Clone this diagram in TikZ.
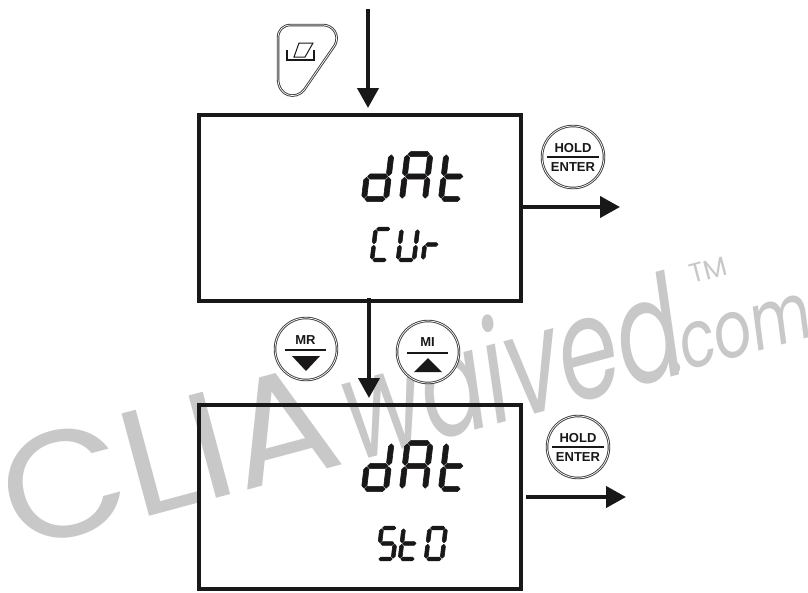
\documentclass[tikz,border=0pt]{standalone}
\usepackage{graphicx}
\usepackage{fontspec}
\setmainfont{Liberation Sans}
\newfontfamily\wmfont{Poppins}
\usetikzlibrary{arrows.meta,calc}
\definecolor{mark}{HTML}{C8C8C8}
\definecolor{ink}{HTML}{1A1718}
\tikzset{
  x=1pt,y=-1pt,
  lcdbox/.style={draw=ink,line width=4pt,minimum width=322pt,minimum height=#1,inner sep=0pt,outer sep=0pt},
  flow/.style={draw=ink,line width=4pt,-{Triangle[length=20pt,width=21pt]}},
  keyring/.style={draw=ink!85,line width=.9pt,double=white,double distance=.7pt},
  roundkey/.style={keyring,circle,minimum size=62pt,inner sep=0pt,outer sep=0pt,fill=white},
  keytext/.style={font=\fontsize{13}{13}\selectfont\bfseries,text=ink,inner sep=0pt},
  keybar/.style={draw=ink,line width=1.8pt},
  wm/.style={text=mark,inner sep=0pt,rotate=15,anchor=base west},
  seg/.style={fill=ink,draw=ink,line width=.6pt,line join=round},
}
% seven-segment digit: \sev{x}{y}{width}{height}{thickness}{segments}
\newcommand\segH[3]{\path[seg] (#1+.8,#3) -- (#1+.8+\tk/2,#3-\tk/2) -- (#2-.8-\tk/2,#3-\tk/2) -- (#2-.8,#3) -- (#2-.8-\tk/2,#3+\tk/2) -- (#1+.8+\tk/2,#3+\tk/2) -- cycle;}
\newcommand\segV[3]{\path[seg] (#1,#2+.8) -- (#1+\tk/2,#2+.8+\tk/2) -- (#1+\tk/2,#3-.8-\tk/2) -- (#1,#3-.8) -- (#1-\tk/2,#3-.8-\tk/2) -- (#1-\tk/2,#2+.8+\tk/2) -- cycle;}
\newcommand\sega{\segH{0}{\wdg}{-\hdg}}
\newcommand\segb{\segV{\wdg}{-\hdg}{-\hdg/2}}
\newcommand\segc{\segV{\wdg}{-\hdg/2}{0}}
\newcommand\segd{\segH{0}{\wdg}{0}}
\newcommand\sege{\segV{0}{-\hdg/2}{0}}
\newcommand\segf{\segV{0}{-\hdg}{-\hdg/2}}
\newcommand\segg{\segH{0}{\wdg}{-\hdg/2}}
\newcommand\sev[6]{%
  \begin{scope}[shift={(#1,#2)},xslant=.12]
    \def\wdg{#3}\def\hdg{#4}\def\tk{#5}
    \foreach \s in {#6}{\csname seg\s\endcsname}
  \end{scope}}
\newcommand\holdkey[3]{%
  \node[roundkey] (#1) at (#2,#3) {};
  \node[keytext] (#1h) at ($(#1)+(0,-8.5)$) {HOLD};
  \node[keytext] (#1e) at ($(#1)+(0,10)$) {ENTER};
  \draw[keybar] ($(#1)+(-26,0)$) -- ($(#1)+(26,0)$);}
\begin{document}
\begin{tikzpicture}
\useasboundingbox (0,0) rectangle (808,592);
\fill[white] (0,0) rectangle (808,592);
% watermark
\node[wm,font=\wmfont\fontsize{152}{152}\selectfont] (wm1) at (17,552) {\scalebox{1.06}[1]{CLIA}};
\node[wm,font=\wmfont\fontsize{142}{142}\selectfont\itshape] (wm2) at (356,462) {\scalebox{.68}[1]{waived}};
\node[wm,font=\wmfont\fontsize{80}{80}\selectfont\itshape] (wm3) at (674,374) {\scalebox{.74}[1]{.com}};
\node[wm,font=\wmfont\fontsize{27}{27}\selectfont] (wm4) at (692,284) {TM};
% displays
\node[lcdbox=186pt] (d1) at (360,208) {};
\node[lcdbox=184pt] (d2) at (360,497) {};
% digits
\sev{364}{199}{22}{45}{5.2}{b,c,d,e,g}
\sev{402}{199}{23}{45}{5.2}{a,b,c,e,f,g}
\sev{441}{199}{20}{45}{5.2}{d,e,f,g}
\sev{372}{260}{15}{31}{3.8}{a,d,e,f}
\sev{398}{260}{16}{31}{3.8}{b,c,d,e,f}
\sev{423}{260}{14}{31}{3.8}{e,g}
\sev{364}{489}{22}{46}{5.2}{b,c,d,e,g}
\sev{402}{489}{23}{46}{5.2}{a,b,c,e,f,g}
\sev{441}{489}{20}{46}{5.2}{d,e,f,g}
\sev{378}{559}{15}{31}{3.8}{a,c,d,f,g}
\sev{400}{559}{15}{31}{3.8}{d,e,f,g}
\sev{426}{559}{16}{31}{3.8}{a,b,c,d,e,f}
% connectors
\coordinate (start) at (368,9);
\coordinate (exit1) at (620,207);
\coordinate (exit2) at (626,497);
\coordinate (link) at (369,298);
\draw[flow,shorten >=7pt] (start) -- (start |- d1.north);
\draw[flow,shorten >=7pt] (link) -- (link |- d2.north);
\draw[flow] (d1.east |- exit1) -- (exit1);
\draw[flow,shorten <=5pt] (d2.east |- exit2) -- (exit2);
% print key
\draw[keyring] (291,25) -- (323,25) .. controls (333,25) and (340,35) .. (335,45) -- (304,90) .. controls (296,100) and (278,97) .. (278,78) -- (278,38) .. controls (278,30) and (283,25) .. (291,25) -- cycle;
\draw[draw=ink,line width=1.3pt] (287,50) -- (287,60) -- (314,60) -- (314,50);
\draw[draw=ink,line width=1pt] (299,43) -- (313,43) -- (305,57) -- (294,57) -- cycle;
% keys
\holdkey{k1}{573}{157}
\holdkey{k2}{578}{447}
\node[roundkey] (mr) at (306,349) {};
\node[keytext] (mrt) at (305.5,340) {MR};
\draw[keybar] (285,350) -- (326,350);
\fill[ink] (292,356) -- (320,356) -- (306,371) -- cycle;
\node[roundkey] (mi) at (428,352) {};
\node[keytext] (mit) at (427.5,342) {MI};
\draw[keybar] (407,353) -- (448,353);
\fill[ink] (414,372) -- (442,372) -- (428,358) -- cycle;
\end{tikzpicture}
\end{document}
